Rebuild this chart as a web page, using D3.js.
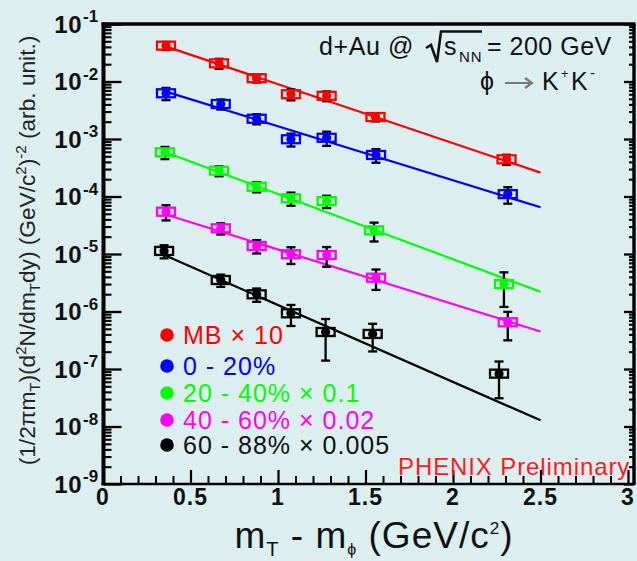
<!DOCTYPE html>
<html>
<head>
<meta charset="utf-8">
<script src="https://cdn.jsdelivr.net/npm/d3@7"></script>
<style>
  body { margin: 0; background: #dceef0; }
  svg { display: block; }
  text { font-family: "Liberation Sans", Arial, Helvetica, sans-serif; }
</style>
</head>
<body>
<svg id="chart" width="637" height="561"></svg>
<script>
// phi -> K+K- transverse-mass spectra in d+Au collisions, per centrality class
const seriesLabels = ["MB \u00d7 10", "0 - 20%", "20 - 40% \u00d7 0.1", "40 - 60% \u00d7 0.02", "60 - 88% \u00d7 0.005"];
const seriesColors = ["#ff0000", "#0000ff", "#00ff00", "#ff00ff", "#000000"];

// m_T - m_phi (GeV/c^2)
const mbX     = [0.360, 0.663, 0.878, 1.074, 1.278, 1.557, 2.306];
const c0020X  = [0.360, 0.673, 0.878, 1.074, 1.278, 1.560, 2.313];
const c2040X  = [0.354, 0.663, 0.878, 1.074, 1.278, 1.549, 2.291];
const c4060X  = [0.360, 0.673, 0.878, 1.074, 1.278, 1.560, 2.313];
const c6088X  = [0.349, 0.673, 0.878, 1.074, 1.272, 1.541, 2.263];

// invariant yields (arb. unit), scaled as in the legend
const mbY     = [4.20e-2, 2.07e-2, 1.14e-2, 6.00e-3, 5.64e-3, 2.41e-3, 4.43e-4];
const c0020Y  = [6.24e-3, 4.06e-3, 2.25e-3, 9.90e-4, 1.05e-3, 5.27e-4, 1.10e-4];
const c2040Y  = [5.87e-4, 2.81e-4, 1.48e-4, 9.30e-5, 8.30e-5, 2.58e-5, 3.00e-6];
const c4060Y  = [5.44e-5, 2.80e-5, 1.38e-5, 9.90e-6, 9.60e-6, 3.87e-6, 6.50e-7];
const c6088Y  = [1.13e-5, 3.53e-6, 1.99e-6, 9.30e-7, 4.40e-7, 4.07e-7, 8.30e-8];

// statistical errors
const mbErr    = [6.7e-3, 4.1e-3, 1.8e-3, 1.3e-3, 1.1e-3, 3.9e-4, 8.9e-5];
const c0020Err = [1.5e-3, 8.1e-4, 4.5e-4, 2.5e-4, 2.9e-4, 1.4e-4, 3.5e-5];
const c2040Err = [1.4e-4, 5.6e-5, 3.0e-5, 2.4e-5, 2.0e-5, 9.3e-6, 1.8e-6];
const c4060Err = [1.6e-5, 6.2e-6, 3.6e-6, 3.2e-6, 3.6e-6, 1.5e-6, 3.35e-7];
const c6088Err = [2.9e-6, 8.5e-7, 5.2e-7, 3.7e-7, 3.0e-7, 2.05e-7, 5.2e-8];

// exponential fits: yield at the start and end of the fit range
const fitRange = [0.35, 2.5];
const mbFit    = [4.17e-2, 2.60e-4];
const c0020Fit = [6.80e-3, 6.50e-5];
const c2040Fit = [6.00e-4, 2.20e-6];
const c4060Fit = [4.97e-5, 4.50e-7];
const c6088Fit = [9.60e-6, 1.28e-8];

// axis ticks
const xMajorTicks = [0, 0.5, 1, 1.5, 2, 2.5, 3];
const xTickLabels = ["0", "0.5", "1", "1.5", "2", "2.5", "3"];
const yDecades = [-9, -8, -7, -6, -5, -4, -3, -2, -1];

const series = [
  { x: mbX,    y: mbY,    err: mbErr,    fit: mbFit },
  { x: c0020X, y: c0020Y, err: c0020Err, fit: c0020Fit },
  { x: c2040X, y: c2040Y, err: c2040Err, fit: c2040Fit },
  { x: c4060X, y: c4060Y, err: c4060Err, fit: c4060Fit },
  { x: c6088X, y: c6088Y, err: c6088Err, fit: c6088Fit }
].map((s, i) => ({ ...s, color: seriesColors[i], label: seriesLabels[i] }));

const svg = d3.select("#chart");
const bg = "#dceef0";
const ink = "#111";

const plot = { left: 103.5, right: 634, top: 24, bottom: 484 };
const x = d3.scaleLinear().domain([0, 3]).range([103, 628]);
const y = d3.scaleLog().domain([1e-9, 1e-1]).range([plot.bottom, plot.top]);

svg.append("rect").attr("width", 637).attr("height", 561).attr("fill", bg);

// ---- fit curves ----
const line = d3.line().x(d => x(d[0])).y(d => y(d[1]));
svg.append("g").selectAll("path").data(series).join("path")
  .attr("d", s => line([[fitRange[0], s.fit[0]], [fitRange[1], s.fit[1]]]))
  .attr("fill", "none").attr("stroke", s => s.color).attr("stroke-width", 2.2);

// ---- error bars ----
const pts = series.flatMap(s => s.x.map((xv, i) => ({ x: xv, y: s.y[i], e: s.err[i], color: s.color })));
const eb = svg.append("g").attr("stroke", "#000").attr("stroke-width", 2.3).attr("fill", "none");
eb.selectAll("line.v").data(pts).join("line").attr("class", "v")
  .attr("x1", d => x(d.x)).attr("x2", d => x(d.x))
  .attr("y1", d => y(d.y + d.e)).attr("y2", d => y(Math.max(d.y - d.e, 1e-12)));
eb.selectAll("line.hi").data(pts).join("line").attr("class", "hi")
  .attr("x1", d => x(d.x) - 4.5).attr("x2", d => x(d.x) + 4.5)
  .attr("y1", d => y(d.y + d.e)).attr("y2", d => y(d.y + d.e));
eb.selectAll("line.lo").data(pts).join("line").attr("class", "lo")
  .attr("x1", d => x(d.x) - 4.5).attr("x2", d => x(d.x) + 4.5)
  .attr("y1", d => y(d.y - d.e)).attr("y2", d => y(d.y - d.e));

// ---- markers: filled point inside an open box ----
const mk = svg.append("g");
mk.selectAll("circle").data(pts).join("circle")
  .attr("cx", d => x(d.x)).attr("cy", d => y(d.y)).attr("r", 4.6).attr("fill", d => d.color);
mk.selectAll("rect").data(pts).join("rect")
  .attr("x", d => x(d.x) - 9).attr("y", d => y(d.y) - 4)
  .attr("width", 18).attr("height", 8)
  .attr("fill", "none").attr("stroke", d => d.color).attr("stroke-width", 2.3);

// ---- axes ----
const yMinor = [];
yDecades.slice(0, -1).forEach(k => { for (let m = 2; m <= 9; m++) yMinor.push(m * Math.pow(10, k)); });
const yMajor = yDecades.map(k => Math.pow(10, k));
const xMinor = d3.range(0, 31).map(i => i / 10).filter(v => !xMajorTicks.some(t => Math.abs(t - v) < 1e-9));

function styleAxis(g, w) {
  g.select(".domain").remove();
  g.selectAll(".tick line").attr("stroke", "#000").attr("stroke-width", w);
  g.selectAll(".tick text").remove();
}
svg.append("g").attr("transform", `translate(${plot.left},0)`)
  .call(d3.axisLeft(y).tickValues(yMajor).tickSize(-18).tickFormat(""))
  .call(g => styleAxis(g, 2.3));
svg.append("g").attr("transform", `translate(${plot.left},0)`)
  .call(d3.axisLeft(y).tickValues(yMinor).tickSize(-8).tickFormat(""))
  .call(g => styleAxis(g, 2.1));
svg.append("g").attr("transform", `translate(${plot.right},0)`)
  .call(d3.axisRight(y).tickValues(yMajor).tickSize(-10).tickFormat(""))
  .call(g => styleAxis(g, 2.3));
svg.append("g").attr("transform", `translate(${plot.right},0)`)
  .call(d3.axisRight(y).tickValues(yMinor).tickSize(-5).tickFormat(""))
  .call(g => styleAxis(g, 2.1));
svg.append("g").attr("transform", `translate(0,${plot.bottom})`)
  .call(d3.axisBottom(x).tickValues(xMajorTicks).tickSize(-14).tickFormat(""))
  .call(g => styleAxis(g, 2.2));
svg.append("g").attr("transform", `translate(0,${plot.bottom})`)
  .call(d3.axisBottom(x).tickValues(xMinor).tickSize(-8).tickFormat(""))
  .call(g => styleAxis(g, 2.0));

// frame
const frame = svg.append("g").attr("stroke", "#000").attr("fill", "none");
frame.append("line").attr("x1", plot.left).attr("x2", plot.left).attr("y1", plot.top - 1.6).attr("y2", plot.bottom + 1.3).attr("stroke-width", 4);
frame.append("line").attr("x1", plot.left - 2).attr("x2", plot.right + 1.5).attr("y1", plot.top).attr("y2", plot.top).attr("stroke-width", 3.3);
frame.append("line").attr("x1", plot.left - 2).attr("x2", plot.right + 1.5).attr("y1", plot.bottom).attr("y2", plot.bottom).attr("stroke-width", 2.6);
frame.append("line").attr("x1", plot.right).attr("x2", plot.right).attr("y1", plot.top).attr("y2", plot.bottom).attr("stroke-width", 3.4);

// x tick labels
svg.append("g").selectAll("text").data(xMajorTicks).join("text")
  .attr("x", d => x(d)).attr("y", 505)
  .attr("text-anchor", "middle").attr("font-size", 23).attr("font-weight", "bold")
  .attr("letter-spacing", 1).attr("fill", ink)
  .text((d, i) => xTickLabels[i]);

// y tick labels 10^k
const yl = svg.append("g").attr("fill", ink).attr("font-weight", "bold");
yl.selectAll("text.base").data(yDecades).join("text").attr("class", "base")
  .attr("x", 82).attr("y", k => y(Math.pow(10, k)) + 8.5)
  .attr("text-anchor", "end").attr("font-size", 24).attr("letter-spacing", 0.5).text("10");
yl.selectAll("text.exp").data(yDecades).join("text").attr("class", "exp")
  .attr("x", 83).attr("y", k => y(Math.pow(10, k)) - 2)
  .attr("font-size", 17).text(k => "-" + Math.abs(k));

// axis titles
const xt = svg.append("text").attr("x", 374).attr("y", 548).attr("text-anchor", "middle")
  .attr("font-size", 37).attr("letter-spacing", 1).attr("fill", ink);
xt.append("tspan").text("m");
xt.append("tspan").attr("font-size", 20).attr("dy", 8).text("T");
xt.append("tspan").attr("dy", -8).text(" - m");
xt.append("tspan").attr("font-size", 16).attr("dy", 7).text("\u03d5");
xt.append("tspan").attr("dy", -7).text(" (GeV/c");
xt.append("tspan").attr("font-size", 17).attr("dy", -14).text("2");
xt.append("tspan").attr("dy", 14).text(")");

const ytl = svg.append("text").attr("transform", "translate(35,250.5) rotate(-90)")
  .attr("text-anchor", "middle").attr("font-size", 22.7).attr("fill", "#222");
ytl.append("tspan").text("(1/2\u03c0m");
ytl.append("tspan").attr("font-size", 15).attr("dy", 5).text("T");
ytl.append("tspan").attr("dy", -5).text(")(d");
ytl.append("tspan").attr("font-size", 15).attr("dy", -9).text("2");
ytl.append("tspan").attr("dy", 9).text("N/dm");
ytl.append("tspan").attr("font-size", 15).attr("dy", 5).text("T");
ytl.append("tspan").attr("dy", -5).text("dy) (GeV/c");
ytl.append("tspan").attr("font-size", 15).attr("dy", -9).text("2");
ytl.append("tspan").attr("dy", 9).text(")");
ytl.append("tspan").attr("font-size", 15).attr("dy", -9).text("-2");
ytl.append("tspan").attr("dy", 9).text(" (arb. unit.)");

// collision system annotation
const ann = svg.append("g").attr("fill", ink).attr("font-size", 25);
ann.append("text").attr("x", 319).attr("y", 55).attr("letter-spacing", 0.6).text("d+Au @");
svg.append("path").attr("d", "M426,48 L431,45 L437,62 L441,31.5 L482,31.5")
  .attr("fill", "none").attr("stroke", ink).attr("stroke-width", 2.6);
ann.append("text").attr("x", 444).attr("y", 55).text("s");
ann.append("text").attr("x", 459).attr("y", 62).attr("font-size", 15).attr("letter-spacing", 1).text("NN");
ann.append("text").attr("x", 487).attr("y", 55).attr("letter-spacing", 0.5).text("= 200 GeV");
ann.append("text").attr("x", 480).attr("y", 90).text("\u03d5");
svg.append("path").attr("d", "M505,83 L531,83 M525,78 L532,83 L525,88")
  .attr("fill", "none").attr("stroke", "#777").attr("stroke-width", 2.2);
ann.append("text").attr("x", 542).attr("y", 90).text("K");
ann.append("text").attr("x", 561).attr("y", 78).attr("font-size", 13).text("+");
ann.append("text").attr("x", 571).attr("y", 90).text("K");
ann.append("text").attr("x", 590).attr("y", 78).attr("font-size", 15).text("-");

// legend
const legendRowY = [335, 366, 393, 420, 445];
const lg = svg.append("g");
lg.selectAll("circle").data(series).join("circle")
  .attr("cx", 167).attr("cy", (d, i) => legendRowY[i]).attr("r", 6.8).attr("fill", d => d.color);
lg.selectAll("text").data(series).join("text")
  .attr("x", 183).attr("y", (d, i) => legendRowY[i] + 9)
  .attr("font-size", 25).attr("letter-spacing", 1).attr("fill", d => d.color === "#000000" ? ink : d.color)
  .text(d => d.label);

// collaboration tag
svg.append("text").attr("x", 398).attr("y", 475).attr("font-size", 24).attr("letter-spacing", 0.9)
  .attr("fill", "#ff1a1a").text("PHENIX Preliminary");
</script>
</body>
</html>
